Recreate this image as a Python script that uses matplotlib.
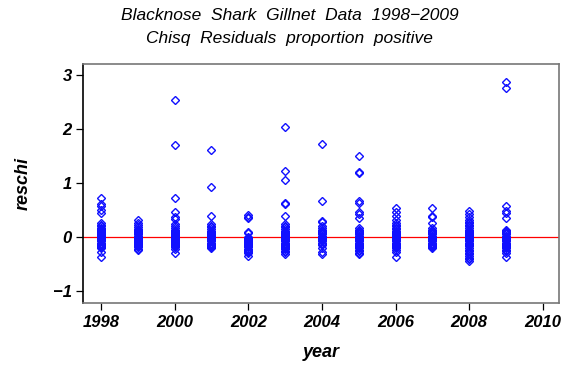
import matplotlib.pyplot as plt
import numpy as np

plt.rcParams['font.family'] = ['Liberation Sans', 'DejaVu Sans']

# chi-square residuals by year (proportion positive model)
r1998 = [0.72, 0.62, 0.58, 0.50, 0.44, 0.26, 0.23, 0.20, 0.17, 0.15, 0.13, 0.11,
         0.09, 0.07, 0.05, 0.04, 0.02, 0.01, 0.0, -0.01, -0.03, -0.04, -0.06,
         -0.08, -0.10, -0.12, -0.14, -0.16, -0.18, -0.20, -0.27, -0.36]
r1999 = [0.32, 0.27, 0.23, 0.19, 0.16, 0.13, 0.11, 0.09, 0.07, 0.05, 0.03, 0.02,
         0.0, -0.02, -0.03, -0.05, -0.07, -0.09, -0.11, -0.13, -0.15, -0.17,
         -0.19, -0.21, -0.23]
r2000 = [2.54, 1.71, 0.73, 0.47, 0.38, 0.33, 0.25, 0.20, 0.17, 0.14, 0.12, 0.10,
         0.08, 0.06, 0.04, 0.03, 0.01, 0.0, -0.02, -0.04, -0.05, -0.07, -0.09,
         -0.11, -0.13, -0.15, -0.17, -0.19, -0.21, -0.30]
r2001 = [1.61, 0.93, 0.40, 0.24, 0.21, 0.18, 0.15, 0.12, 0.10, 0.08, 0.06, 0.04,
         0.02, 0.0, -0.02, -0.04, -0.06, -0.08, -0.10, -0.12, -0.14, -0.16,
         -0.18, -0.20]
r2002 = [0.41, 0.38, 0.35, 0.10, 0.08, 0.01, -0.01, -0.03, -0.05, -0.07, -0.09,
         -0.11, -0.13, -0.15, -0.17, -0.19, -0.21, -0.23, -0.25, -0.27, -0.30,
         -0.34]
r2003 = [2.04, 1.22, 1.06, 0.64, 0.62, 0.40, 0.24, 0.21, 0.18, 0.15, 0.12, 0.10,
         0.08, 0.06, 0.04, 0.02, 0.0, -0.02, -0.04, -0.06, -0.08, -0.10, -0.12,
         -0.14, -0.16, -0.18, -0.20, -0.22, -0.25, -0.27, -0.32]
r2004 = [1.72, 0.67, 0.30, 0.28, 0.20, 0.17, 0.14, 0.11, 0.09, 0.07, 0.05, 0.03,
         0.01, 0.0, -0.02, -0.04, -0.06, -0.08, -0.10, -0.12, -0.14, -0.20,
         -0.28, -0.32]
r2005 = [1.51, 1.20, 1.19, 0.67, 0.64, 0.46, 0.43, 0.35, 0.17, 0.13, 0.11, 0.09,
         0.07, 0.05, 0.03, 0.02, 0.0, -0.02, -0.04, -0.06, -0.08, -0.10, -0.12,
         -0.14, -0.16, -0.18, -0.20, -0.23, -0.26, -0.30, -0.32]
r2006 = [0.55, 0.47, 0.39, 0.32, 0.26, 0.23, 0.20, 0.17, 0.15, 0.12, 0.10, 0.08,
         0.06, 0.04, 0.02, 0.0, -0.02, -0.04, -0.06, -0.08, -0.10, -0.12, -0.14,
         -0.16, -0.18, -0.20, -0.23, -0.27, -0.36]
r2007 = [0.55, 0.40, 0.37, 0.26, 0.17, 0.13, 0.11, 0.09, 0.07, 0.05, 0.03, 0.01,
         0.0, -0.02, -0.04, -0.06, -0.08, -0.10, -0.12, -0.14, -0.16, -0.18,
         -0.20]
r2008 = [0.49, 0.43, 0.38, 0.32, 0.29, 0.26, 0.23, 0.20, 0.17, 0.14, 0.12, 0.10,
         0.08, 0.06, 0.04, 0.02, 0.0, -0.02, -0.04, -0.06, -0.08, -0.10, -0.12,
         -0.14, -0.17, -0.20, -0.23, -0.26, -0.29, -0.32, -0.35, -0.38, -0.41,
         -0.45]
r2009 = [2.88, 2.76, 0.57, 0.49, 0.44, 0.36, 0.13, 0.11, 0.09, 0.07, 0.05, 0.03,
         0.01, 0.0, -0.02, -0.04, -0.06, -0.08, -0.10, -0.12, -0.14, -0.16,
         -0.18, -0.20, -0.23, -0.26, -0.30, -0.36]

years = [1998, 1999, 2000, 2001, 2002, 2003, 2004, 2005, 2006, 2007, 2008, 2009]
reschi = [r1998, r1999, r2000, r2001, r2002, r2003, r2004, r2005, r2006,
          r2007, r2008, r2009]

fig = plt.figure(figsize=(5.64, 3.77), dpi=100)
ax = fig.add_axes([0.1472, 0.1963, 0.8439, 0.6339])

for yr, vals in zip(years, reschi):
    ax.plot([yr] * len(vals), vals, linestyle="none", marker="D", markersize=4.2,
            markerfacecolor="none", markeredgecolor="#1010ff", markeredgewidth=1.0)

ax.axhline(0, color="red", linewidth=0.9, zorder=0)

ax.set_xlim(1997.51, 2010.44)
ax.set_ylim(-1.22, 3.21)
ax.set_xticks(np.arange(1998, 2011, 2))
ax.set_yticks([-1, 0, 1, 2, 3])
ax.set_yticklabels(["\u22121", "0", "1", "2", "3"])

ax.tick_params(direction="out", length=5, width=0.9, colors="black",
               labelsize=12)
for lab in ax.get_xticklabels() + ax.get_yticklabels():
    lab.set_fontstyle("italic")
    lab.set_fontweight("bold")
ax.tick_params(axis="x", pad=4)
ax.tick_params(axis="y", pad=3)

for side in ["top", "right", "bottom"]:
    ax.spines[side].set_color("#777777")
ax.spines["left"].set_color("black")
for s in ax.spines.values():
    s.set_linewidth(1.2)

ax.set_xlabel("year", fontsize=13, fontstyle="italic", fontweight="semibold",
              labelpad=10)
ax.set_ylabel("reschi", fontsize=13, fontstyle="italic", fontweight="semibold",
              labelpad=15)

fig.text(0.513, 0.958, "Blacknose  Shark  Gillnet  Data  1998\u22122009",
         ha="center", va="center", fontsize=12.5, fontstyle="italic")
fig.text(0.513, 0.897, "Chisq  Residuals  proportion  positive",
         ha="center", va="center", fontsize=12.5, fontstyle="italic")

fig.savefig("out.png", dpi=100)
